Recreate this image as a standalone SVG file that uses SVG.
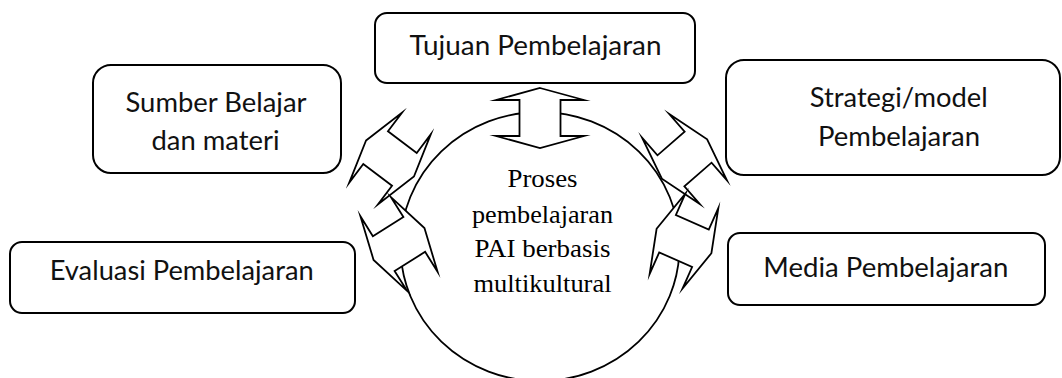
<svg xmlns="http://www.w3.org/2000/svg" width="1062" height="378" viewBox="0 0 1062 378">
  <style>
    .box { fill: #ffffff; stroke: #000000; stroke-width: 2; }
    .lbl { font-family: Lato, "Open Sans", "Liberation Sans", sans-serif; font-size: 27px; fill: #111111; text-anchor: middle; }
    .ctr { font-family: "Liberation Serif", "Times New Roman", serif; font-size: 25px; fill: #000000; text-anchor: middle; }
    .hub { fill: #ffffff; stroke: #000000; stroke-width: 1.8; }
    .arr { fill: #ffffff; stroke: #000000; stroke-width: 1.8; stroke-linejoin: miter; stroke-miterlimit: 20; }
  </style>
  <defs>
    <path id="dblarrow" d="M 0,-30 L 44,-18 L 20.5,-18 L 20.5,18 L 44,18 L 0,30 L -44,18 L -20.5,18 L -20.5,-18 L -44,-18 Z"/>
  </defs>
  <rect width="1062" height="378" fill="#ffffff"/>

  <g id="hub">
    <ellipse class="hub" cx="540" cy="246.5" rx="139.5" ry="134.5"/>
  </g>

  <g id="connectors">
    <use href="#dblarrow" class="arr" transform="translate(540,118)"/>
    <use href="#dblarrow" class="arr" transform="translate(390,158.5) rotate(-53)"/>
    <use href="#dblarrow" class="arr" transform="translate(684.5,159) rotate(49)"/>
    <use href="#dblarrow" class="arr" transform="translate(399,244) rotate(58)"/>
    <use href="#dblarrow" class="arr" transform="translate(684,241) rotate(-66)"/>
  </g>

  <g id="hub-label">
    <text class="ctr" x="542.5" y="187" textLength="70" lengthAdjust="spacingAndGlyphs">Proses</text>
    <text class="ctr" x="542.5" y="223" textLength="141" lengthAdjust="spacingAndGlyphs">pembelajaran</text>
    <text class="ctr" x="542.5" y="257" textLength="136" lengthAdjust="spacingAndGlyphs">PAI berbasis</text>
    <text class="ctr" x="542.5" y="292" textLength="138" lengthAdjust="spacingAndGlyphs">multikultural</text>
  </g>

  <g id="tujuan">
    <rect class="box" x="375" y="13" width="320" height="70" rx="12" ry="12"/>
    <text class="lbl" x="535.5" y="55" textLength="252" lengthAdjust="spacingAndGlyphs">Tujuan Pembelajaran</text>
  </g>

  <g id="sumber">
    <rect class="box" x="93" y="65" width="248" height="108" rx="18" ry="18"/>
    <text class="lbl" x="216" y="111.7" textLength="181" lengthAdjust="spacingAndGlyphs">Sumber Belajar</text>
    <text class="lbl" x="215.5" y="150" textLength="128" lengthAdjust="spacingAndGlyphs">dan materi</text>
  </g>

  <g id="evaluasi">
    <rect class="box" x="10" y="242" width="345" height="71" rx="12" ry="12"/>
    <text class="lbl" x="181.7" y="280" textLength="264" lengthAdjust="spacingAndGlyphs">Evaluasi Pembelajaran</text>
  </g>

  <g id="strategi">
    <rect class="box" x="726" y="60" width="334" height="115" rx="18" ry="18"/>
    <text class="lbl" x="898.7" y="106.7" textLength="178" lengthAdjust="spacingAndGlyphs">Strategi/model</text>
    <text class="lbl" x="899" y="146" textLength="162" lengthAdjust="spacingAndGlyphs">Pembelajaran</text>
  </g>

  <g id="media">
    <rect class="box" x="728" y="233" width="317" height="72" rx="12" ry="12"/>
    <text class="lbl" x="885.8" y="276.7" textLength="245" lengthAdjust="spacingAndGlyphs">Media Pembelajaran</text>
  </g>
</svg>
